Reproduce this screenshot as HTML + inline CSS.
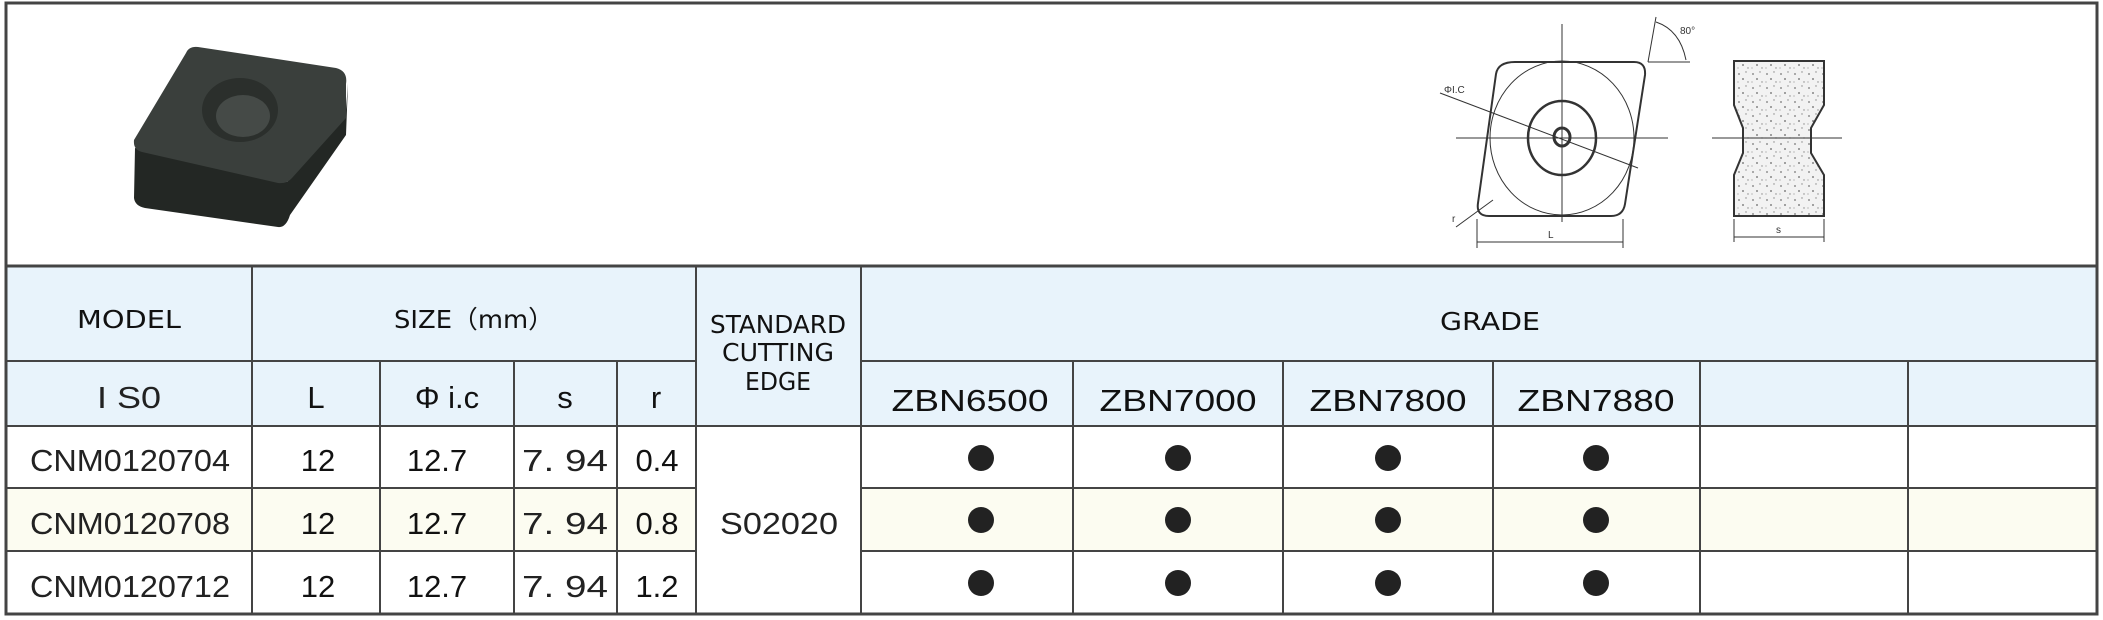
<!DOCTYPE html>
<html><head><meta charset="utf-8"><style>
html,body{margin:0;padding:0;background:#fff;}
svg{display:block;}
.h{font-family:"DejaVu Sans","Liberation Sans",sans-serif;font-size:25px;fill:#111;}
.d{font-family:"Liberation Sans",sans-serif;font-size:31px;fill:#222;}
.g{font-family:"Liberation Sans",sans-serif;font-size:31px;fill:#111;}
</style></head><body>
<svg width="2103" height="620" viewBox="0 0 2103 620" xmlns="http://www.w3.org/2000/svg">
<defs>
<pattern id="sp" width="14" height="14" patternUnits="userSpaceOnUse">
<rect width="14" height="14" fill="#f2f2f2"/>
<circle cx="3" cy="4" r="0.9" fill="#777"/><circle cx="10" cy="2" r="0.7" fill="#888"/>
<circle cx="7" cy="9" r="0.9" fill="#666"/><circle cx="12" cy="12" r="0.7" fill="#888"/><circle cx="2" cy="12" r="0.6" fill="#999"/>
</pattern>
</defs>
<rect x="0" y="0" width="2103" height="620" fill="#fff"/>
<rect x="7" y="266" width="2089" height="160" fill="#e8f3fb"/>
<rect x="7" y="488" width="689" height="63" fill="#fcfcf1"/>
<rect x="861" y="488" width="1235" height="63" fill="#fcfcf1"/>
<rect x="696" y="426" width="165" height="188" fill="#fff"/>
<g stroke="#444" stroke-width="2" fill="none">
<rect x="6" y="3" width="2091" height="611" stroke-width="3"/>
<line x1="6" y1="266" x2="2097" y2="266" stroke-width="3"/>
<line x1="6" y1="361" x2="696" y2="361"/>
<line x1="861" y1="361" x2="2097" y2="361"/>
<line x1="6" y1="426" x2="2097" y2="426"/>
<line x1="6" y1="488" x2="696" y2="488"/>
<line x1="861" y1="488" x2="2097" y2="488"/>
<line x1="6" y1="551" x2="696" y2="551"/>
<line x1="861" y1="551" x2="2097" y2="551"/>
<line x1="252" y1="266" x2="252" y2="614"/>
<line x1="380" y1="361" x2="380" y2="614"/>
<line x1="514" y1="361" x2="514" y2="614"/>
<line x1="617" y1="361" x2="617" y2="614"/>
<line x1="696" y1="266" x2="696" y2="614"/>
<line x1="861" y1="266" x2="861" y2="614"/>
<line x1="1073" y1="361" x2="1073" y2="614"/>
<line x1="1283" y1="361" x2="1283" y2="614"/>
<line x1="1493" y1="361" x2="1493" y2="614"/>
<line x1="1700" y1="361" x2="1700" y2="614"/>
<line x1="1908" y1="361" x2="1908" y2="614"/>
</g>
<g text-anchor="middle">
<text class="h" x="129" y="328" font-size="28" textLength="104" lengthAdjust="spacingAndGlyphs">MODEL</text>
<text class="h" x="474" y="328" font-size="28" textLength="160" lengthAdjust="spacingAndGlyphs">SIZE（mm）</text>
<text class="h" x="1490" y="330" font-size="28" textLength="100" lengthAdjust="spacingAndGlyphs">GRADE</text>
<text class="h" x="778" y="333" font-size="23" textLength="136" lengthAdjust="spacingAndGlyphs">STANDARD</text>
<text class="h" x="778" y="361" font-size="23" textLength="112" lengthAdjust="spacingAndGlyphs">CUTTING</text>
<text class="h" x="778" y="390" font-size="23" textLength="66" lengthAdjust="spacingAndGlyphs">EDGE</text>
<text class="d" x="129" y="408" font-size="34" textLength="64" lengthAdjust="spacingAndGlyphs">I S0</text>
<text class="g" x="316" y="408" font-size="33">L</text>
<text class="g" x="447" y="408" font-size="33">Φ i.c</text>
<text class="g" x="565" y="408" font-size="33">s</text>
<text class="g" x="656" y="408" font-size="33">r</text>
<text class="g" x="970" y="411" font-size="33" textLength="157" lengthAdjust="spacingAndGlyphs">ZBN6500</text>
<text class="g" x="1178" y="411" font-size="33" textLength="157" lengthAdjust="spacingAndGlyphs">ZBN7000</text>
<text class="g" x="1388" y="411" font-size="33" textLength="157" lengthAdjust="spacingAndGlyphs">ZBN7800</text>
<text class="g" x="1596" y="411" font-size="33" textLength="157" lengthAdjust="spacingAndGlyphs">ZBN7880</text>
<g class="d">
<text x="130" y="471" textLength="200" lengthAdjust="spacingAndGlyphs">CNM0120704</text>
<text x="130" y="534" textLength="200" lengthAdjust="spacingAndGlyphs">CNM0120708</text>
<text x="130" y="597" textLength="200" lengthAdjust="spacingAndGlyphs">CNM0120712</text>
<text x="565" y="471" textLength="86" lengthAdjust="spacingAndGlyphs">7. 94</text>
<text x="565" y="534" textLength="86" lengthAdjust="spacingAndGlyphs">7. 94</text>
<text x="565" y="597" textLength="86" lengthAdjust="spacingAndGlyphs">7. 94</text>
<text x="779" y="534" textLength="118" lengthAdjust="spacingAndGlyphs">S02020</text>
</g>
<g class="g" font-size="33">
<text x="318" y="471">12</text><text x="318" y="534">12</text><text x="318" y="597">12</text>
<text x="437" y="471">12.7</text><text x="437" y="534">12.7</text><text x="437" y="597">12.7</text>
<text x="657" y="471">0.4</text><text x="657" y="534">0.8</text><text x="657" y="597">1.2</text>
</g>
</g>
<g fill="#222">
<circle cx="981" cy="458" r="13"/><circle cx="1178" cy="458" r="13"/><circle cx="1388" cy="458" r="13"/><circle cx="1596" cy="458" r="13"/>
<circle cx="981" cy="520" r="13"/><circle cx="1178" cy="520" r="13"/><circle cx="1388" cy="520" r="13"/><circle cx="1596" cy="520" r="13"/>
<circle cx="981" cy="583" r="13"/><circle cx="1178" cy="583" r="13"/><circle cx="1388" cy="583" r="13"/><circle cx="1596" cy="583" r="13"/>
</g>
<!-- insert photo -->
<g>
<path d="M135,148 L287,182 L346,110 L348,83 L346,135 L290,215 Q286,228 278,227 L145,208 Q135,206 134,198 Z" fill="#232724"/>
<path d="M198,47 L336,68 Q348,71 346,84 L346,118 L292,178 Q287,184 278,183 L142,152 Q133,150 134,140 L186,53 Q189,46 198,47 Z" fill="#3a3f3c"/>
<ellipse cx="240" cy="110" rx="38" ry="32" fill="#2b2f2c"/>
<ellipse cx="243" cy="116" rx="27" ry="21" fill="#454a47"/>
</g>
<!-- technical drawing -->
<g stroke="#333" fill="none">
<path d="M1515,62 L1634,62 Q1646,62 1645,75 L1625,204 Q1623,216 1611,216 L1489,216 Q1476,216 1478,203 L1496,74 Q1498,62 1515,62 Z" stroke-width="2"/>
<ellipse cx="1562" cy="138" rx="72" ry="77" stroke-width="1"/>
<ellipse cx="1562" cy="138" rx="34" ry="37" stroke-width="2.5"/>
<ellipse cx="1562" cy="137" rx="8" ry="9" stroke-width="3"/>
<line x1="1562" y1="24" x2="1562" y2="222" stroke-width="1"/>
<line x1="1456" y1="138" x2="1668" y2="138" stroke-width="1"/>
<line x1="1440" y1="93" x2="1638" y2="168" stroke-width="1"/>
<line x1="1656" y1="17" x2="1648" y2="62" stroke-width="1"/>
<line x1="1648" y1="62" x2="1690" y2="62" stroke-width="1"/>
<path d="M1656,22 Q1680,30 1686,60" stroke-width="1"/>
<line x1="1477" y1="219" x2="1477" y2="248" stroke-width="1"/>
<line x1="1623" y1="219" x2="1623" y2="248" stroke-width="1"/>
<line x1="1477" y1="242" x2="1623" y2="242" stroke-width="1"/>
<line x1="1456" y1="227" x2="1493" y2="200" stroke-width="1"/>
<path d="M1734,61 L1824,61 L1824,105 L1811,128 L1811,153 L1824,175 L1824,216 L1734,216 L1734,175 L1743,153 L1743,128 L1734,105 Z" fill="url(#sp)" stroke-width="2"/>
<line x1="1712" y1="138" x2="1842" y2="138" stroke-width="1"/>
<line x1="1734" y1="219" x2="1734" y2="242" stroke-width="1"/>
<line x1="1824" y1="219" x2="1824" y2="242" stroke-width="1"/>
<line x1="1734" y1="237" x2="1824" y2="237" stroke-width="1"/>
</g>
<g font-family="Liberation Sans,sans-serif" font-size="10" fill="#333">
<text x="1444" y="93">ΦI.C</text><text x="1548" y="238">L</text><text x="1776" y="233">s</text><text x="1680" y="34">80°</text><text x="1452" y="222">r</text>
</g>
</svg>
</body></html>
